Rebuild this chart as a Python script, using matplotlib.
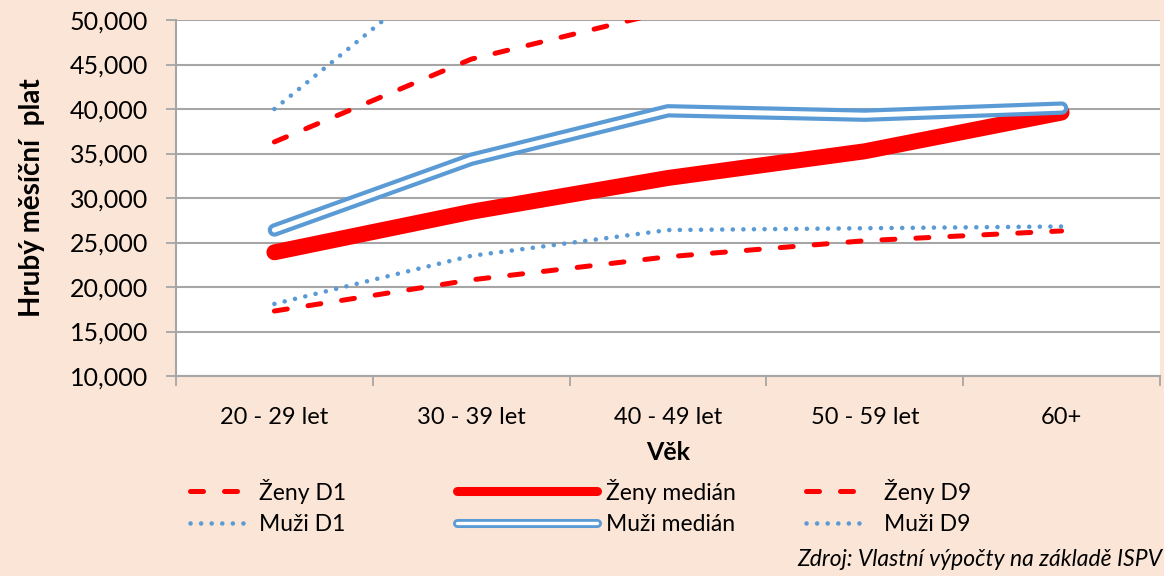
import matplotlib.pyplot as plt
from matplotlib.lines import Line2D
from matplotlib.legend_handler import HandlerTuple

plt.rcParams['font.family'] = ['Lato', 'DejaVu Sans']

categories = ['20 - 29 let', '30 - 39 let', '40 - 49 let', '50 - 59 let', '60+']
zeny_d1 = [17300, 20800, 23400, 25200, 26300]
zeny_median = [23900, 28450, 32250, 35250, 39600]
zeny_d9 = [36300, 45600, 51000, 54000, 57000]
muzi_d1 = [18100, 23500, 26400, 26600, 26800]
muzi_median = [26400, 34350, 39800, 39300, 40100]
muzi_d9 = [40000, 58000, 62000, 65000, 68000]
yticks = [10000, 15000, 20000, 25000, 30000, 35000, 40000, 45000, 50000]

bg = '#FBE5D6'
red = '#FF0000'
blue = '#5B9BD5'
grid = '#A6A6A6'

fig = plt.figure(figsize=(11.64, 5.76), dpi=100, facecolor=bg)
ax = fig.add_axes([176 / 1164, 1 - 376 / 576, 984 / 1164, 356 / 576])
ax.set_facecolor('white')

x = list(range(len(categories)))

dash_kw = dict(color=red, lw=3.6, dashes=(2.6, 4.2), dash_capstyle='round', zorder=3)
dot_kw = dict(color=blue, lw=3.3, dashes=(0.01, 2.3), dash_capstyle='round', zorder=3)

l_zd1, = ax.plot(x, zeny_d1, **dash_kw)
l_md1, = ax.plot(x, muzi_d1, **dot_kw)
ax.plot(x, zeny_median, color=red, lw=11.5, solid_capstyle='round',
        solid_joinstyle='round', zorder=4)
ax.plot(x, muzi_median, color=blue, lw=9.6, solid_capstyle='round',
        solid_joinstyle='round', zorder=5)
ax.plot(x, muzi_median, color='white', lw=3.6, solid_capstyle='round',
        solid_joinstyle='round', zorder=6)
l_zd9, = ax.plot(x, zeny_d9, **dash_kw)
l_md9, = ax.plot(x, muzi_d9, **dot_kw)

ax.set_xlim(-0.5, 4.5)
ax.set_ylim(10000, 50000)
ax.set_yticks(yticks)
ax.set_yticklabels([f'{v:,}' for v in yticks], fontsize=18)
ax.set_xticks([i - 0.5 for i in range(6)])
ax.set_xticklabels([])
ax.set_xticks(x, minor=True)
ax.set_xticklabels(categories, minor=True, fontsize=17)
ax.tick_params(axis='x', which='minor', length=0, pad=22)
ax.tick_params(axis='x', which='major', length=7, color=grid, width=1.3)
ax.tick_params(axis='y', length=7, color=grid, width=1.3, pad=13)

ax.grid(axis='y', color=grid, lw=1.5)
ax.set_axisbelow(True)
for s in ['right', 'top']:
    ax.spines[s].set_visible(False)
for s in ['left', 'bottom']:
    ax.spines[s].set_color(grid)
    ax.spines[s].set_linewidth(1.5)

ax.set_xlabel('Věk', fontsize=18, fontweight='bold', labelpad=10)
ax.set_ylabel('Hrubý měsíční  plat', fontsize=20, fontweight='bold', labelpad=18)

# legend proxies (thinner than the plotted medians)
p_zmed = Line2D([], [], color=red, lw=6.5, solid_capstyle='round')
p_mmed_o = Line2D([], [], color=blue, lw=6.5, solid_capstyle='round')
p_mmed_i = Line2D([], [], color='white', lw=2.4, solid_capstyle='round')

leg_kw = dict(frameon=False, fontsize=16.5, loc='center left', borderpad=0,
              borderaxespad=0, labelspacing=0.45, handleheight=0.8)
y_leg = 1 - 507 / 576
fig.legend([l_zd1, l_md1], ['Ženy D1', 'Muži D1'],
           bbox_to_anchor=(190 / 1164, y_leg), handlelength=2.4,
           handletextpad=0.6, **leg_kw)
fig.legend([p_zmed, (p_mmed_o, p_mmed_i)], ['Ženy medián', 'Muži medián'],
           bbox_to_anchor=(457 / 1164, y_leg), handlelength=6.1,
           handletextpad=0.4, handler_map={tuple: HandlerTuple(ndivide=1)},
           **leg_kw)
fig.legend([l_zd9, l_md9], ['Ženy D9', 'Muži D9'],
           bbox_to_anchor=(806 / 1164, y_leg), handlelength=2.4,
           handletextpad=1.0, **leg_kw)

fig.text(1162 / 1164, 1 - 559 / 576, 'Zdroj: Vlastní výpočty na základě ISPV',
         ha='right', va='center', fontsize=16.5, style='italic')

fig.savefig('out.png', dpi=100, facecolor=bg)
